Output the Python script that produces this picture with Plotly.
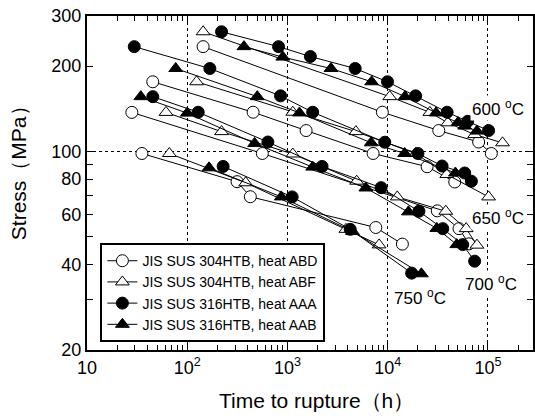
import plotly.graph_objects as go

# ---------------- data (time to rupture [h], stress [MPa]) ----------------
# JIS SUS 304HTB, heat ABD (open circles)
abd_600_t = [144, 8840, 32300, 80700, 108000]
abd_600_s = [234, 137.5, 118.5, 108, 98.4]
abd_650_t = [45.3, 454, 1534, 7145, 24700, 46600]
abd_650_s = [176, 137.5, 118.5, 98.4, 88.4, 78.1]
abd_700_t = [28, 561, 31200, 51400, 64600]
abd_700_s = [137.3, 98.4, 61.8, 53.5, 47.3]
abd_750_t = [35.3, 314, 426, 7600, 14000]
abd_750_s = [98.4, 78.3, 69.3, 54, 47.2]

# JIS SUS 304HTB, heat ABF (open triangles)
abf_600_t = [144, 10470, 26300, 39700, 73600, 139600]
abf_600_s = [264, 156, 137.3, 126.2, 114.7, 107.3]
abf_650_t = [124, 1129, 4811, 18970, 38800, 101400]
abf_650_s = [176, 137.5, 117.5, 98.4, 83, 69.2]
abf_700_t = [61.4, 220, 1129, 4900, 12450, 37900, 60600, 77600]
abf_700_s = [137.3, 117.5, 98, 78.6, 69.2, 61.6, 53.5, 46.8]
abf_750_t = [66.3, 383, 3828, 8196]
abf_750_s = [98.4, 77.6, 53.2, 46.9]

# JIS SUS 316HTB, heat AAA (filled circles)
aaa_600_t = [220, 814, 1692, 4735, 9950, 18970, 39100, 62700, 101400]
aaa_600_s = [264, 234, 216, 196, 176, 157, 137.5, 127.7, 118.5]
aaa_650_t = [29.6, 168, 852, 1783, 9340, 20000, 34840, 58560, 68280]
aaa_650_s = [234, 196, 157, 137.5, 107.8, 98.4, 88.9, 84, 78.6]
aaa_700_t = [45.3, 128.6, 637, 2212, 8580, 20460, 35400, 55950, 73600]
aaa_700_s = [156, 137.5, 108, 88.6, 74.6, 61.6, 53.5, 47, 41.1]
aaa_750_t = [228, 1113, 4222, 17310]
aaa_750_s = [88.6, 69.2, 53.2, 37.3]

# JIS SUS 316HTB, heat AAB (filled triangles)
aab_600_t = [368, 898, 2716, 6907, 14850, 30300, 50200, 58560, 77600]
aab_600_s = [234, 215, 196, 176, 156, 136.7, 126.4, 122.9, 118]
aab_650_t = [76.7, 500, 1316, 6829, 14750, 47300]
aab_650_s = [196, 156, 136.7, 107.3, 98.4, 84]
aab_700_t = [34.4, 100, 470, 1783, 6047, 16090, 30870, 48780]
aab_700_s = [156, 136.5, 106.8, 88.1, 74.4, 61.3, 53.6, 47]
aab_750_t = [165, 866, 4451, 21660]
aab_750_s = [87.6, 69.2, 52.3, 37.1]

series_names = ["JIS SUS 304HTB, heat ABD", "JIS SUS 304HTB, heat ABF",
                "JIS SUS 316HTB, heat AAA", "JIS SUS 316HTB, heat AAB"]
temp_labels = ["600", "650", "700", "750"]

x_tick_vals = [10, 100, 1000, 10000, 100000]
x_tick_text = ["10", "10<sup>2</sup>", "10<sup>3</sup>", "10<sup>4</sup>", "10<sup>5</sup>"]
y_tick_vals = [20, 30, 40, 50, 60, 70, 80, 90, 100, 200, 300]
y_tick_text = ["20", "", "40", "", "60", "", "80", "", "100", "200", "300"]

# ---------------- figure ----------------
FONT = "Liberation Sans, Arial, sans-serif"
X_RANGE = [1, 5.449]
fig = go.Figure()

series = [
    (series_names[0], "circle", "white", [(abd_600_t, abd_600_s), (abd_650_t, abd_650_s), (abd_700_t, abd_700_s), (abd_750_t, abd_750_s)]),
    (series_names[1], "triangle-up", "white", [(abf_600_t, abf_600_s), (abf_650_t, abf_650_s), (abf_700_t, abf_700_s), (abf_750_t, abf_750_s)]),
    (series_names[2], "circle", "black", [(aaa_600_t, aaa_600_s), (aaa_650_t, aaa_650_s), (aaa_700_t, aaa_700_s), (aaa_750_t, aaa_750_s)]),
    (series_names[3], "triangle-up", "black", [(aab_600_t, aab_600_s), (aab_650_t, aab_650_s), (aab_700_t, aab_700_s), (aab_750_t, aab_750_s)]),
]

for name, sym, fill, groups in series:
    for i, (tt, ss) in enumerate(groups):
        fig.add_trace(go.Scatter(
            x=tt, y=ss, mode="lines+markers", name=name,
            showlegend=(i == 0),
            line=dict(color="black", width=1),
            marker=dict(symbol=sym, size=12, color=fill,
                        line=dict(color="black", width=1)),
        ))

# invisible helper trace so the top minor-tick axis is drawn
fig.add_trace(go.Scatter(x=[10], y=[20], xaxis="x2", mode="markers",
                         marker=dict(opacity=0), showlegend=False,
                         hoverinfo="skip"))

minor_x = [m * 10 ** e for e in range(1, 6) for m in range(2, 10)]

fig.update_layout(
    width=535, height=419,
    margin=dict(l=87, r=0, t=16, b=69),
    plot_bgcolor="white", paper_bgcolor="white",
    font=dict(family=FONT, color="black", size=18),
    xaxis=dict(
        type="log", range=X_RANGE,
        tickmode="array", tickvals=x_tick_vals, ticktext=x_tick_text,
        ticks="inside", ticklen=8, tickwidth=1.2, tickcolor="black",
        showline=True, linewidth=2, linecolor="black", mirror="ticks",
        showgrid=True, gridcolor="black", griddash="dot", gridwidth=1,
        zeroline=False, tickfont=dict(size=18),
        minor=dict(dtick="D1", ticks="inside", ticklen=5,
                   tickwidth=1.2, tickcolor="black", showgrid=False),
    ),
    xaxis2=dict(
        type="log", range=X_RANGE, overlaying="x", side="top", anchor="y",
        tickmode="array", tickvals=minor_x, showticklabels=False,
        ticks="inside", ticklen=5, tickwidth=1.2, tickcolor="black",
        showline=False, showgrid=False, zeroline=False,
    ),
    yaxis=dict(
        type="log", range=[1.30103, 2.47712],
        tickmode="array", tickvals=y_tick_vals, ticktext=y_tick_text,
        ticks="inside", ticklen=6, tickwidth=1.2, tickcolor="black",
        showline=True, linewidth=2, linecolor="black", mirror="ticks",
        showgrid=False, zeroline=False, tickfont=dict(size=18),
        minor=dict(tickmode="array", tickvals=[100], ticks="", showgrid=True,
                   gridcolor="black", griddash="dot", gridwidth=1),
    ),
    legend=dict(
        x=0.03, y=0.32, xanchor="left", yanchor="top",
        bgcolor="white", bordercolor="black", borderwidth=2,
        font=dict(size=14, family=FONT), tracegroupgap=0,
    ),
)

# temperature labels
label_pos = [(0.922, 0.725), (0.922, 0.398), (0.906, 0.2), (0.746, 0.159)]
for txt, (px, py) in zip(temp_labels, label_pos):
    fig.add_annotation(x=px, y=py, xref="paper", yref="paper",
                       xanchor="center", yanchor="middle",
                       text=f"{txt} <sup>o</sup>C", showarrow=False,
                       font=dict(size=17, family=FONT), bgcolor="white")

# axis titles
fig.add_annotation(x=0.515, y=-0.15, xref="paper", yref="paper",
                   xanchor="center", yanchor="middle",
                   text="Time to rupture（h）", showarrow=False,
                   font=dict(size=21, family=FONT))
fig.add_annotation(x=-0.152, y=0.545, xref="paper", yref="paper",
                   xanchor="center", yanchor="middle",
                   text="Stress（MPa）", showarrow=False, textangle=-90,
                   font=dict(size=21, family=FONT))

fig.write_html("out.html")
